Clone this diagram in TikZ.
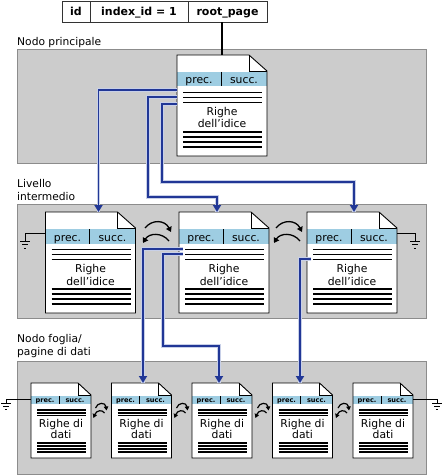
\documentclass[tikz,border=0pt]{standalone}
\usepackage{fontspec}
\setmainfont{DejaVu Sans}
\usetikzlibrary{arrows.meta,calc}
\definecolor{bandgray}{RGB}{204,204,204}
\definecolor{bandedge}{RGB}{140,140,140}
\definecolor{hdrblue}{RGB}{158,205,226}
\definecolor{connblue}{RGB}{33,55,150}
\definecolor{halocol}{RGB}{200,208,232}
\tikzset{
  band/.style={fill=bandgray, draw=bandedge, line width=0.9pt},
  lbl/.style={anchor=base west, inner sep=0pt, font=\fontsize{10.7}{12}\selectfont},
  cell/.style={draw=black!80, fill=white, line width=0.9pt, inner sep=0pt,
    font=\bfseries\fontsize{11}{12}\selectfont, minimum height=21pt,
    text height=10pt, text depth=1.6pt},
  pgnode/.style={draw=none, inner sep=0pt, outer sep=0pt, anchor=north west},
  pgline/.style={draw=black, line width=0.9pt},
  bigtxt/.style={anchor=base, inner sep=0pt, font=\fontsize{10.8}{12}\selectfont},
  leaftxt/.style={anchor=base, inner sep=0pt, font=\fontsize{10.8}{12}\selectfont},
  leafhdr/.style={anchor=base, inner sep=0pt, font=\bfseries\fontsize{6.6}{7}\selectfont},
  txtline/.style={line width=1.8pt},
  leafline/.style={line width=1.35pt},
  conn/.style={draw=connblue, line width=1.8pt, -{Triangle[length=7pt,width=8pt]},
    preaction={draw=halocol, line width=3.4pt, -}},
  swap/.style={line width=1.3pt, -{Triangle[length=5pt,width=6pt]}},
  smallswap/.style={line width=1.2pt, -{Triangle[length=4pt,width=4.5pt]}},
  gnd/.style={line width=0.9pt}
}
\newcommand{\bigpg}[3]{%
  \node[pgnode, minimum width=90pt, minimum height=101pt] (#1) at (#2,#3) {};
  \begin{scope}[shift={(#2,#3)}]
    \fill[white] (0,0) -- (72,0) -- (90,16) -- (90,101) -- (0,101) -- cycle;
    \fill[hdrblue] (0,17) rectangle (90,31.5);
    \draw[pgline] (0,0) -- (72,0) -- (90,16) -- (90,101) -- (0,101) -- cycle;
    \draw[line width=0.8pt] (72,0) -- (72,16) -- (90,16);
    \draw[line width=1pt] (44,17) -- (44,31.5);
    \node[bigtxt] (#1-p) at (22,29) {prec.};
    \node[bigtxt] (#1-s) at (67,29) {succ.};
    \foreach \yy in {37.5,42.5,47.5,77,82,87,92} \draw[txtline] (6,\yy) -- (85,\yy);
    \node[bigtxt] (#1-t1) at (45,60.5) {Righe};
    \node[bigtxt] (#1-t2) at (45,73) {dell’idice};
  \end{scope}}
\newcommand{\leafpg}[3]{%
  \node[pgnode, minimum width=60pt, minimum height=75pt] (#1) at (#2,#3) {};
  \begin{scope}[shift={(#2,#3)}]
    \fill[white] (0,0) -- (47,0) -- (60,12) -- (60,75) -- (0,75) -- cycle;
    \fill[hdrblue] (0,13) rectangle (60,21);
    \draw[pgline] (0,0) -- (47,0) -- (60,12) -- (60,75) -- (0,75) -- cycle;
    \draw[line width=0.7pt] (47,0) -- (47,12) -- (60,12);
    \draw[line width=0.8pt] (28,13) -- (28,21);
    \node[leafhdr] (#1-p) at (14,19.2) {prec.};
    \node[leafhdr] (#1-s) at (44,19.2) {succ.};
    \foreach \yy in {27,29.9,32.8,60,63,66,69} \draw[leafline] (6,\yy) -- (55,\yy);
    \node[leaftxt] (#1-t1) at (30,44) {Righe di};
    \node[leaftxt] (#1-t2) at (30,55) {dati};
  \end{scope}}
\newcommand{\grnd}[3]{%
  \draw[gnd] (#1,#3) -- (#2,#3) -- ++(0,8);
  \draw[gnd] ($(#2,#3)+(-5,8)$) -- ++(10,0);
  \draw[gnd] ($(#2,#3)+(-3,11.5)$) -- ++(6,0);
  \draw[gnd] ($(#2,#3)+(-1.2,15)$) -- ++(2.4,0);}
\newcommand{\smallgrnd}[3]{%
  \draw[gnd] (#1,#3) -- (#2,#3) -- ++(0,4.5);
  \draw[gnd] ($(#2,#3)+(-5,4.5)$) -- ++(10,0);
  \draw[gnd] ($(#2,#3)+(-3,7.5)$) -- ++(6,0);
  \draw[gnd] ($(#2,#3)+(-1.2,10.5)$) -- ++(2.4,0);}
\newcommand{\bigswap}[1]{%
  \draw[swap] (#1-12,228) .. controls (#1-5,219) and (#1+8,220) .. (#1+14,232);
  \draw[swap] (#1+12,241) .. controls (#1+5,232) and (#1-8,233) .. (#1-14,243);}
\newcommand{\leafswap}[1]{%
  \draw[smallswap] (#1-5,408) .. controls (#1-3,402) and (#1+5,402) .. (#1+6,410.5);
  \draw[smallswap] (#1+4,413) .. controls (#1+2,409.5) and (#1-4,410) .. (#1-7,418);}
\begin{document}
\begin{tikzpicture}[x=1pt,y=-1pt]
\useasboundingbox (0,0) rectangle (444,476);
\fill[white] (0,0) rectangle (444,476);
% bands
\draw[band] (17,49) rectangle (426,163);
\draw[band] (17,204) rectangle (426,318);
\draw[band] (17,361) rectangle (426,474);
\node[lbl] (lab1) at (17,46) {Nodo principale};
\node[lbl] (lab2a) at (17,187) {Livello};
\node[lbl] (lab2b) at (17,200) {intermedio};
\node[lbl] (lab3a) at (17,342.5) {Nodo foglia/};
\node[lbl] (lab3b) at (17,355.5) {pagine di dati};
% table
\node[cell, minimum width=28pt] (tid) at (76,11.5) {id};
\node[cell, minimum width=98pt] (tidx) at (139,11.5) {index\_id = 1};
\node[cell, minimum width=79pt] (troot) at (227.5,11.5) {root\_page};
% pages
\bigpg{root}{177}{55}
\bigpg{i1}{45.5}{212}
\bigpg{i2}{179}{212}
\bigpg{i3}{307}{212}
\leafpg{l1}{31}{383}
\leafpg{l2}{111.5}{383}
\leafpg{l3}{192}{383}
\leafpg{l4}{272.5}{383}
\leafpg{l5}{353}{383}
% root link
\draw[line width=1.6pt] (root.north |- troot.south) -- (root.north);
% grounds
\grnd{45.5}{25}{233}
\grnd{397}{415}{233}
\smallgrnd{31}{6}{399}
\smallgrnd{413}{437}{399}
% sibling arrows
\bigswap{157}
\bigswap{288}
\leafswap{100.5}
\leafswap{181.5}
\leafswap{262.5}
\leafswap{343}
% blue connectors
\draw[conn] ($(root.north west)+(0,35)$) -| ($(i1.north)+(8,0)$);
\draw[conn] ($(root.north west)+(0,42)$) -- ++(-29,0) |- ($(i2.north)+(-7,-15)$) -- ($(i2.north)+(-7,0)$);
\draw[conn] ($(root.north west)+(0,49)$) -- ++(-15,0) |- ($(i3.north)+(2,-30)$) -- ($(i3.north)+(2,0)$);
\draw[conn] ($(i2.north west)+(4,37)$) -| ($(l2.north)+(1.5,0)$);
\draw[conn] ($(i2.north west)+(4,42)$) -- ++(-20,0) |- ($(l3.north)+(-3,-37)$) -- ($(l3.north)+(-3,0)$);
\draw[conn] ($(i3.north west)+(4,47)$) -| ($(l4.north)+(-2.5,0)$);
\end{tikzpicture}
\end{document}
